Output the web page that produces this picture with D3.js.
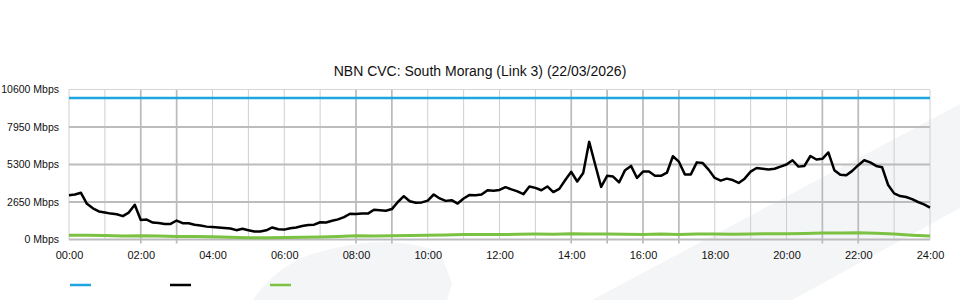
<!DOCTYPE html>
<html>
<head>
<meta charset="utf-8">
<script src="https://cdn.jsdelivr.net/npm/d3@7"></script>
<style>
  body { margin: 0; background: #fff; }
  svg { display: block; font-family: "Liberation Sans", Arial, sans-serif; }
</style>
</head>
<body>
<div id="chart"></div>
<script>
const TITLE = 'NBN CVC: South Morang (Link 3) (22/03/2026)';
const Y_TICKS = [0, 2650, 5300, 7950, 10600];
const X_TICK_HOURS = [0, 2, 4, 6, 8, 10, 12, 14, 16, 18, 20, 22, 24];
const GRID_HOURS = d3.range(0, 25);
// hourly grid lines that show heavier in the reference
const HEAVY_HOURS = [2, 3, 8, 9, 14, 15, 16, 17, 21, 22];

// capacity (blue), flat
const capacityMin = [0, 1440];
const capacity = [10000, 10000];

// traffic (black), one value every 10 minutes
const TRAFFIC_STEP = 10;
const traffic = [
  3130, 3180, 3300, 2520, 2200, 1980, 1910, 1830, 1780, 1650, 1900, 2450,
  1380, 1410, 1200, 1160, 1100, 1100, 1340, 1150, 1150, 1040, 990, 910,
  880, 850, 820, 780, 660, 760, 660, 565, 570, 650, 850, 720,
  700, 800, 850, 950, 1030, 1050, 1220, 1200, 1320, 1420, 1580, 1820,
  1800, 1830, 1830, 2100, 2070, 2030, 2150, 2650, 3060, 2700, 2600, 2620,
  2750, 3180, 2900, 2730, 2780, 2540, 2900, 3150, 3130, 3180, 3480, 3440,
  3500, 3700, 3540, 3400, 3200, 3750, 3650, 3480, 3750, 3350, 3580, 4200,
  4780, 4100, 4700, 6900, 5300, 3720, 4500, 4450, 4030, 4900, 5200, 4350,
  4800, 4800, 4500, 4500, 4720, 5880, 5500, 4600, 4600, 5450, 5400, 4920,
  4350, 4160, 4300, 4200, 4000, 4300, 4800, 5050, 5000, 4950, 5000, 5150,
  5300, 5600, 5150, 5200, 5900, 5650, 5700, 6150, 4900, 4580, 4540, 4850,
  5250, 5600, 5450, 5200, 5100, 3850, 3260, 3070, 3000, 2850, 2650, 2480,
  2260
];

// upstream (green), one value every 30 minutes
const UP_STEP = 30;
const upload = [
  300, 300, 280, 250, 260, 240, 220, 210, 200, 160, 120, 130,
  140, 160, 180, 220, 270, 250, 260, 280, 300, 320, 360, 360,
  350, 370, 380, 370, 400, 380, 380, 370, 360, 380, 360, 390,
  380, 370, 390, 410, 400, 420, 460, 460, 470, 440, 380, 300,
  240
];

const LEGEND_COLORS = ['#1ea6e0', '#000000', '#7cc242'];

const W = 960, H = 300;
const margin = { top: 89.5, right: 30, bottom: 60.5, left: 69 };

const svg = d3.select('#chart').append('svg')
  .attr('width', W).attr('height', H);

// faint watermark shapes in the background
const bg = svg.append('g').attr('fill', '#f4f5f7');
bg.append('path')
  .attr('d', 'M960,104 L960,208 L792,300 L592,300 Z');
bg.append('path')
  .attr('d', 'M253,300 C268,278 290,258 327,250 C345,245 365,242 387,242 C405,243 428,246 440,253 L447,270 L452,284 L447,300 Z');

const x = d3.scaleLinear().domain([0, 1440]).range([margin.left, W - margin.right]);
const y = d3.scaleLinear().domain([0, 10600]).range([H - margin.bottom, margin.top]);

const grid = svg.append('g');

// vertical hourly grid
grid.selectAll('line.v')
  .data(GRID_HOURS)
  .join('line')
  .attr('class', 'v')
  .attr('x1', h => x(h * 60)).attr('x2', h => x(h * 60))
  .attr('y1', y(10600))
  .attr('y2', h => HEAVY_HOURS.includes(h) ? y(0) + 4 : y(0))
  .attr('stroke', h => HEAVY_HOURS.includes(h) ? '#bababa' : '#cfcfcf')
  .attr('stroke-width', h => HEAVY_HOURS.includes(h) ? 1.7 : 1);

// horizontal grid
grid.selectAll('line.h')
  .data(Y_TICKS)
  .join('line')
  .attr('class', 'h')
  .attr('x1', x(0)).attr('x2', x(1440))
  .attr('y1', d => y(d)).attr('y2', d => y(d))
  .attr('stroke', d => d === 10600 ? '#d6d6d6' : '#bcbcbc')
  .attr('stroke-width', d => d === 10600 ? 1 : 2);

// series
const line = d3.line().x(d => x(d[0])).y(d => y(d[1]));

svg.append('path')
  .datum(capacity.map((v, i) => [capacityMin[i], v]))
  .attr('d', line)
  .attr('fill', 'none')
  .attr('stroke', LEGEND_COLORS[0])
  .attr('stroke-width', 2.3);

svg.append('path')
  .datum(upload.map((v, i) => [i * UP_STEP, v]))
  .attr('d', line)
  .attr('fill', 'none')
  .attr('stroke', LEGEND_COLORS[2])
  .attr('stroke-width', 3)
  .attr('stroke-linejoin', 'round');

svg.append('path')
  .datum(traffic.map((v, i) => [i * TRAFFIC_STEP, v]))
  .attr('d', line)
  .attr('fill', 'none')
  .attr('stroke', LEGEND_COLORS[1])
  .attr('stroke-width', 2.5)
  .attr('stroke-linejoin', 'round');

// axes (labels only)
const yAxis = svg.append('g')
  .attr('transform', `translate(${margin.left},0)`)
  .call(d3.axisLeft(y).tickValues(Y_TICKS).tickFormat(d => d + ' Mbps').tickSize(0).tickPadding(10));
yAxis.select('.domain').remove();
yAxis.selectAll('text').attr('font-size', 10.5).attr('fill', '#111').attr('font-family', null);

const xAxis = svg.append('g')
  .attr('transform', `translate(0,${y(0)})`)
  .call(d3.axisBottom(x).tickValues(X_TICK_HOURS.map(h => h * 60))
    .tickFormat(m => String(m / 60).padStart(2, '0') + ':00').tickSize(0).tickPadding(12));
xAxis.select('.domain').remove();
xAxis.selectAll('text').attr('font-size', 11).attr('fill', '#111').attr('font-family', null);

// title
svg.append('text')
  .attr('x', 480).attr('y', 76)
  .attr('text-anchor', 'middle')
  .attr('font-size', 14)
  .attr('fill', '#111')
  .text(TITLE);

// legend swatches (no labels in the source)
svg.append('g').selectAll('line')
  .data(LEGEND_COLORS)
  .join('line')
  .attr('x1', (d, i) => 70 + i * 100).attr('x2', (d, i) => 91 + i * 100)
  .attr('y1', 285).attr('y2', 285)
  .attr('stroke', d => d)
  .attr('stroke-width', 2.5);
</script>
</body>
</html>
